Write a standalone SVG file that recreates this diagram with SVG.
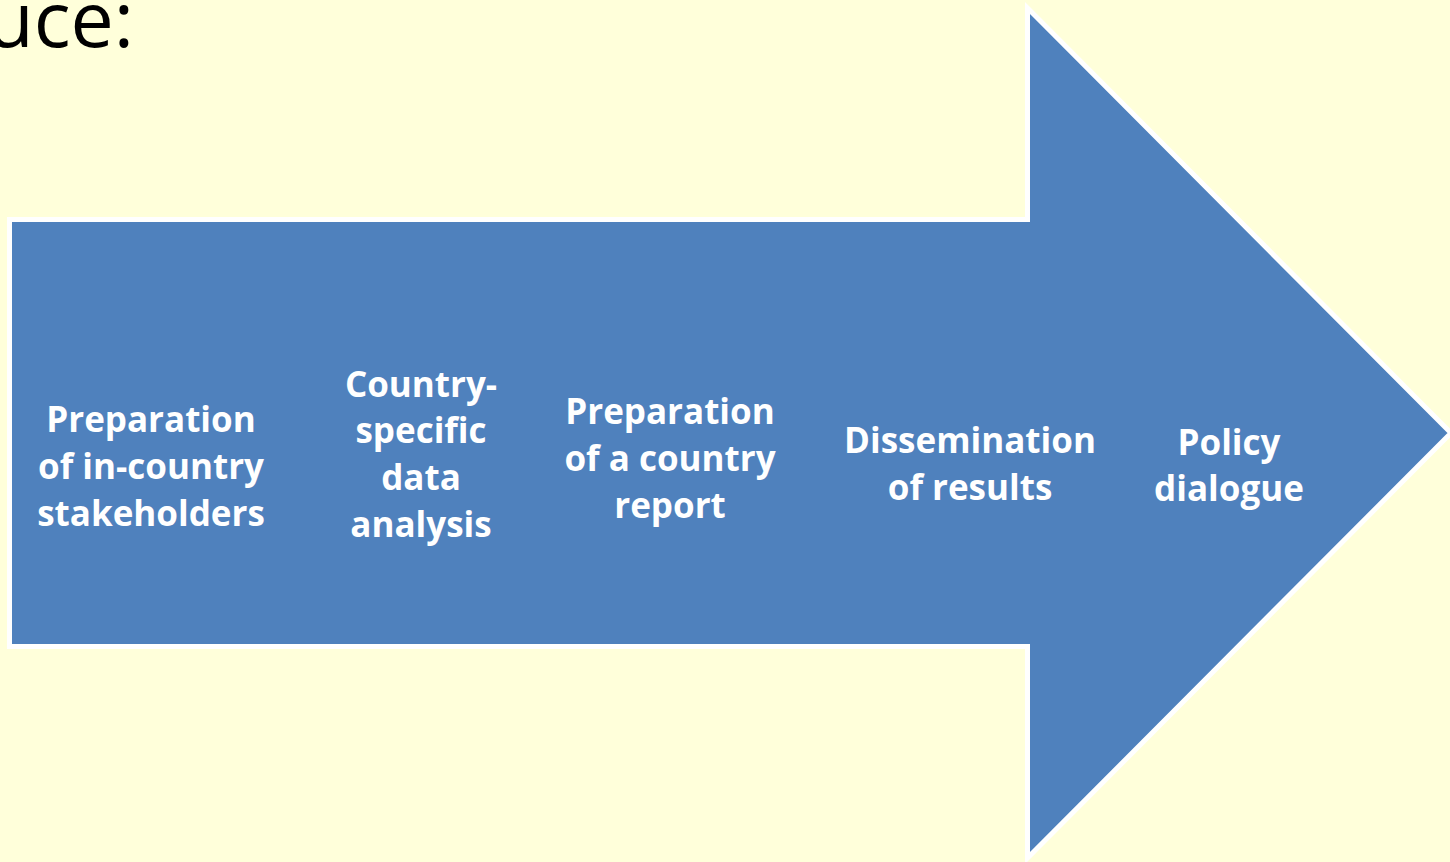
<svg xmlns="http://www.w3.org/2000/svg" width="1450" height="862" viewBox="0 0 1450 862">
<style>
.lbl{font-family:"Open Sans","Noto Sans",sans-serif;font-weight:bold;font-size:35px;fill:#FFFFFF;text-anchor:middle}
.title{font-family:"Open Sans","Noto Sans",sans-serif;font-size:77px;fill:#000000;text-anchor:end}
</style>
<rect x="0" y="0" width="1450" height="862" fill="#FFFFDA"/>
<text class="title" x="134" y="47">uce:</text>
<g id="arrow">
<polygon points="9.5,219.5 1027.5,219.5 1027.5,8 1451,433 1027.5,858 1027.5,646.5 9.5,646.5" fill="#4F81BD" stroke="#FFFFFF" stroke-width="5" stroke-linejoin="miter"/>
</g>
<g id="connectors"></g>
<g id="step1"><text class="lbl" x="151" y="432">Preparation</text><text class="lbl" x="151" y="479">of in-country</text><text class="lbl" x="151" y="526">stakeholders</text></g>
<g id="step2"><text class="lbl" x="421" y="397">Country-</text><text class="lbl" x="421" y="443">specific</text><text class="lbl" x="421" y="490">data</text><text class="lbl" x="421" y="537">analysis</text></g>
<g id="step3"><text class="lbl" x="670" y="424">Preparation</text><text class="lbl" x="670" y="471">of a country</text><text class="lbl" x="670" y="518">report</text></g>
<g id="step4"><text class="lbl" x="970" y="453">Dissemination</text><text class="lbl" x="970" y="500">of results</text></g>
<g id="step5"><text class="lbl" x="1229" y="455">Policy</text><text class="lbl" x="1229" y="501">dialogue</text></g>
</svg>
